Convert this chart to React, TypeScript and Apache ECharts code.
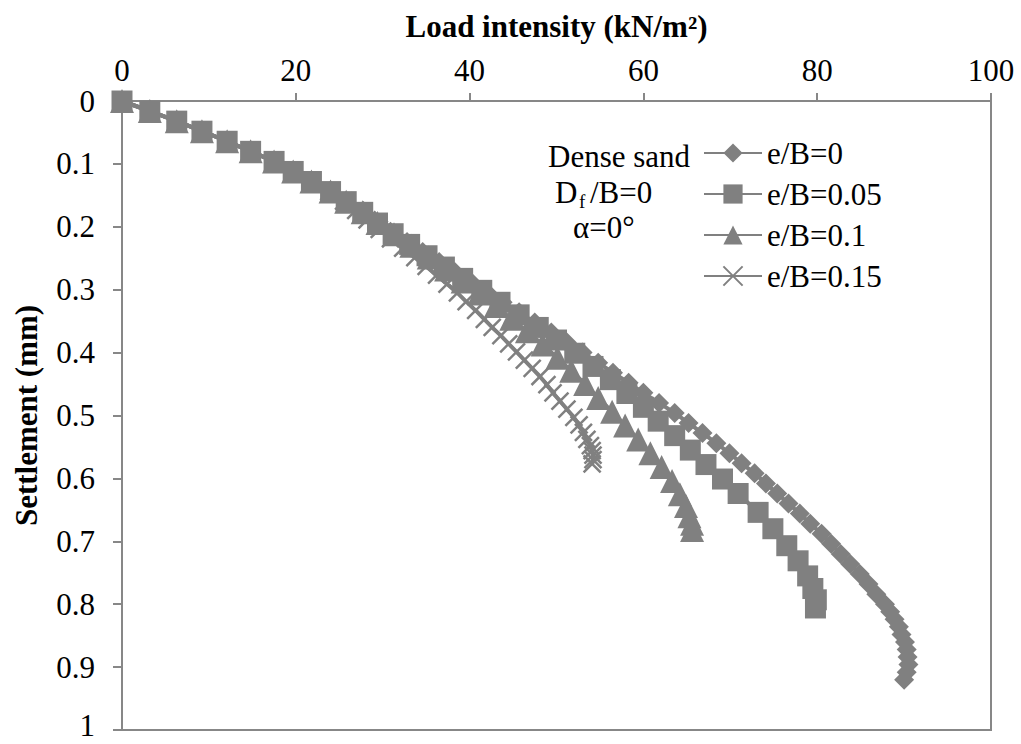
import React, { useEffect, useRef } from "react";
import * as echarts from "echarts";

// e/B = 0 (diamonds): settlement (mm) and load intensity (kN/m²)
const settleE0 = [
  0, 0.016, 0.032, 0.048, 0.064, 0.08, 0.096, 0.112, 0.128, 0.144,
  0.16, 0.176, 0.192, 0.208, 0.224, 0.24, 0.256, 0.272, 0.288, 0.304,
  0.32, 0.336, 0.352, 0.368, 0.384, 0.4, 0.416, 0.432, 0.448, 0.464,
  0.48, 0.496, 0.512, 0.528, 0.544, 0.56, 0.576, 0.592, 0.608, 0.624,
  0.64, 0.656, 0.672, 0.688, 0.704, 0.72, 0.736, 0.752, 0.768, 0.784,
  0.8, 0.812, 0.824, 0.836, 0.848, 0.86, 0.872, 0.884, 0.896, 0.908,
  0.92,
];
const loadE0 = [
  0, 3.2, 6.3, 9.2, 12.1, 14.8, 17.5, 19.7, 21.8, 24.0,
  25.8, 27.6, 29.2, 30.9, 32.8, 34.6, 36.5, 38.3, 40.2, 42.0,
  43.8, 45.7, 47.5, 49.4, 51.2, 53.0, 54.8, 56.5, 58.3, 60.0,
  61.8, 63.6, 65.2, 66.8, 68.4, 69.9, 71.3, 72.8, 74.1, 75.4,
  76.7, 78.0, 79.2, 80.5, 81.6, 82.7, 83.8, 84.9, 85.9, 86.8,
  87.8, 88.4, 88.9, 89.4, 89.7, 90.1, 90.3, 90.4, 90.5, 90.3,
  90.0,
];

// e/B = 0.05 (squares)
const settleE005 = [
  0, 0.016, 0.032, 0.048, 0.064, 0.08, 0.096, 0.112, 0.128, 0.144,
  0.16, 0.177, 0.194, 0.211, 0.228, 0.246, 0.264, 0.282, 0.301, 0.32,
  0.34, 0.36, 0.38, 0.401, 0.422, 0.443, 0.465, 0.487, 0.509, 0.532,
  0.555, 0.578, 0.601, 0.624, 0.654, 0.68, 0.707, 0.731, 0.755, 0.775,
  0.793, 0.806,
];
const loadE005 = [
  0, 3.2, 6.3, 9.2, 12.1, 14.8, 17.5, 19.7, 21.8, 24.0,
  25.8, 27.7, 29.4, 31.2, 33.1, 35.1, 37.1, 39.2, 41.4, 43.5,
  45.7, 47.9, 50.0, 52.1, 54.2, 56.2, 58.1, 60.0, 61.7, 63.6,
  65.4, 67.2, 69.1, 70.9, 73.2, 74.9, 76.5, 77.8, 78.9, 79.5,
  79.9, 79.8,
];

// e/B = 0.1 (triangles)
const settleE01 = [
  0, 0.016, 0.032, 0.048, 0.064, 0.08, 0.096, 0.112, 0.128, 0.144,
  0.16, 0.177, 0.194, 0.212, 0.23, 0.249, 0.268, 0.287, 0.306, 0.326,
  0.346, 0.366, 0.387, 0.408, 0.429, 0.45, 0.472, 0.494, 0.516, 0.538,
  0.56, 0.582, 0.604, 0.625, 0.644, 0.66, 0.672, 0.682,
];
const loadE01 = [
  0, 3.2, 6.3, 9.2, 12.1, 14.8, 17.5, 19.7, 21.8, 24.0,
  25.8, 27.7, 29.4, 31.3, 33.3, 35.3, 37.3, 39.2, 41.1, 43.0,
  44.8, 46.6, 48.4, 50.1, 51.7, 53.3, 54.8, 56.4, 57.9, 59.4,
  60.8, 62.1, 63.3, 64.2, 64.9, 65.3, 65.6, 65.6,
];

// e/B = 0.15 (crosses)
const settleE015 = [
  0, 0.016, 0.032, 0.048, 0.064, 0.08, 0.096, 0.112, 0.128, 0.144,
  0.159, 0.174, 0.189, 0.204, 0.219, 0.234, 0.249, 0.263, 0.277, 0.291,
  0.305, 0.319, 0.333, 0.347, 0.36, 0.373, 0.386, 0.399, 0.412, 0.425,
  0.438, 0.451, 0.464, 0.477, 0.49, 0.503, 0.515, 0.527, 0.538, 0.548,
  0.556, 0.563, 0.57, 0.577,
];
const loadE015 = [
  0, 3.2, 6.3, 9.2, 12.1, 14.8, 17.5, 19.7, 21.8, 23.8,
  25.5, 26.9, 28.2, 29.6, 30.9, 32.3, 33.7, 35.0, 36.2, 37.4,
  38.6, 39.6, 40.7, 41.7, 42.6, 43.6, 44.5, 45.4, 46.3, 47.2,
  48.1, 48.9, 49.6, 50.4, 51.2, 52.0, 52.6, 53.1, 53.5, 53.9,
  54.1, 54.2, 54.2, 54.1,
];

const seriesNames = ["e/B=0", "e/B=0.05", "e/B=0.1", "e/B=0.15"];
const xTicks = { min: 0, max: 100, interval: 20 };
const yTicks = { min: 0, max: 1, interval: 0.1 };
const noteLines = ["Dense sand", "D", "f", "/B=0", "α=0°"];

const FONT = "'Liberation Serif', 'Times New Roman', serif";
const GRAY = "#808080";
const AXIS = "#878787";

function pairs(loads: number[], settle: number[]) {
  return loads.map((x, i) => [x, settle[i]]);
}

export default function App() {
  const ref = useRef<HTMLDivElement>(null);
  useEffect(() => {
    document.body.style.margin = "0";
    if (!ref.current) return;
    const chart = echarts.init(ref.current, undefined, { renderer: "svg" });
    const lineBase = {
      type: "line" as const,
      smooth: false,
      lineStyle: { color: GRAY, width: 4 },
      z: 3,
    };
    chart.setOption({
      animation: false,
      backgroundColor: "#ffffff",
      grid: {
        left: 122,
        top: 101,
        width: 869,
        height: 629,
        show: true,
        borderColor: AXIS,
        borderWidth: 2,
        containLabel: false,
        outerBoundsMode: "none",
      },
      xAxis: {
        type: "value",
        position: "top",
        min: xTicks.min,
        max: xTicks.max,
        interval: xTicks.interval,
        name: "Load intensity (kN/m²)",
        nameLocation: "middle",
        nameGap: 59,
        nameTextStyle: { fontFamily: FONT, fontSize: 31, fontWeight: "bold", color: "#000" },
        axisLine: { show: true, lineStyle: { color: AXIS, width: 2 } },
        axisTick: { show: true, length: 8, inside: false, lineStyle: { color: AXIS, width: 2 } },
        axisLabel: { fontFamily: FONT, fontSize: 31, color: "#000", margin: 15 },
        splitLine: { show: false },
      },
      yAxis: {
        type: "value",
        inverse: true,
        min: yTicks.min,
        max: yTicks.max,
        interval: yTicks.interval,
        name: "Settlement (mm)",
        nameLocation: "middle",
        nameGap: 80,
        nameRotate: 90,
        nameTextStyle: { fontFamily: FONT, fontSize: 31, fontWeight: "bold", color: "#000" },
        axisLine: { show: true, lineStyle: { color: AXIS, width: 2 } },
        axisTick: { show: true, length: 9, inside: false, lineStyle: { color: AXIS, width: 2 } },
        axisLabel: {
          fontFamily: FONT,
          fontSize: 31,
          color: "#000",
          margin: 27,
          formatter: (v: number) => (v === 1 ? "{last|1}" : String(v)),
          rich: {
            last: {
              fontFamily: FONT,
              fontSize: 31,
              color: "#000",
              lineHeight: 26,
              padding: [0, 0, 10, 0],
            },
          },
        },
        splitLine: { show: false },
      },
      legend: {
        orient: "vertical",
        left: 698,
        top: 131,
        itemWidth: 58,
        itemHeight: 24,
        itemGap: 7,
        textStyle: { fontFamily: FONT, fontSize: 31, color: "#000", lineHeight: 34 },
        data: seriesNames,
      },
      series: [
        {
          ...lineBase,
          name: seriesNames[0],
          data: pairs(loadE0, settleE0),
          symbol: "diamond",
          symbolSize: 20,
          itemStyle: { color: GRAY, borderWidth: 0 },
        },
        {
          ...lineBase,
          name: seriesNames[1],
          data: pairs(loadE005, settleE005),
          symbol: "rect",
          symbolSize: 21,
          itemStyle: { color: GRAY, borderWidth: 0 },
        },
        {
          ...lineBase,
          name: seriesNames[2],
          data: pairs(loadE01, settleE01),
          symbol: "triangle",
          symbolSize: 24,
          itemStyle: { color: GRAY, borderWidth: 0 },
        },
        {
          ...lineBase,
          name: seriesNames[3],
          data: pairs(loadE015, settleE015),
          symbol: "path://M0,0L10,10M10,0L0,10",
          symbolSize: 17,
          itemStyle: { color: GRAY, borderColor: GRAY, borderWidth: 2.5 },
        },
      ],
      graphic: [
        {
          type: "text",
          left: 548,
          top: 141,
          style: { text: noteLines[0], font: `31px ${FONT}`, fill: "#000" },
        },
        {
          type: "text",
          left: 555,
          top: 177,
          style: { text: noteLines[1], font: `31px ${FONT}`, fill: "#000" },
        },
        {
          type: "text",
          left: 579,
          top: 192,
          style: { text: noteLines[2], font: `19px ${FONT}`, fill: "#000" },
        },
        {
          type: "text",
          left: 590,
          top: 177,
          style: { text: noteLines[3], font: `31px ${FONT}`, fill: "#000" },
        },
        {
          type: "text",
          left: 573,
          top: 212,
          style: { text: noteLines[4], font: `31px ${FONT}`, fill: "#000" },
        },
      ],
    });
    return () => chart.dispose();
  }, []);
  return <div ref={ref} style={{ width: 1021, height: 744 }} />;
}
